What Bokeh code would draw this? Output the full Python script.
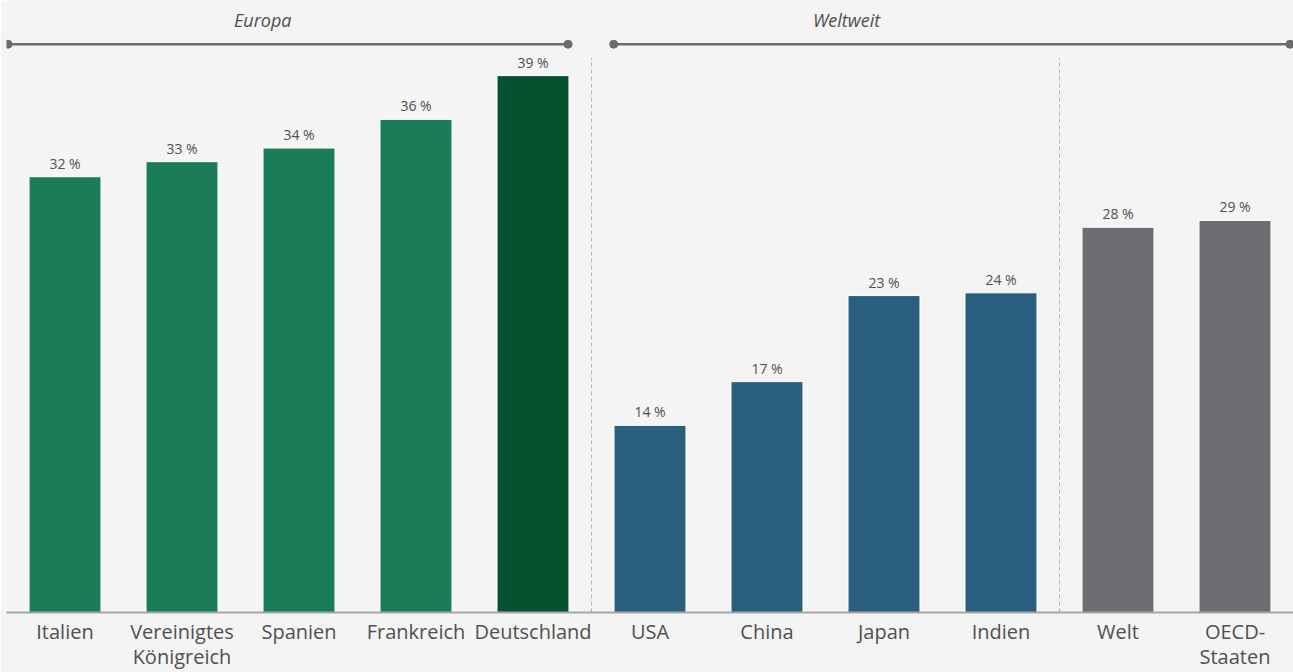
from bokeh.plotting import figure
from bokeh.models import ColumnDataSource, FixedTicker, Range1d
from bokeh.core.properties import value
from bokeh.embed import file_html
from bokeh.resources import INLINE

# ---- data ----
categories = ["Italien", "Vereinigtes\nKönigreich", "Spanien", "Frankreich", "Deutschland",
              "USA", "China", "Japan", "Indien", "Welt", "OECD-\nStaaten"]
shares = [31.9, 33.0, 34.0, 36.1, 39.3, 13.7, 16.9, 23.2, 23.4, 28.2, 28.7]
share_labels = ["32 %", "33 %", "34 %", "36 %", "39 %", "14 %", "17 %", "23 %", "24 %", "28 %", "29 %"]
groups = ["Europa", "Weltweit"]

GREEN = "#1a7d58"
DARK = "#04502f"
BLUE = "#2a5f80"
GREY = "#6d6e72"
colors = [GREEN, GREEN, GREEN, GREEN, DARK, BLUE, BLUE, BLUE, BLUE, GREY, GREY]

BG = "#f3f4f3"
TXT = "#505050"
FONT = "Open Sans"

xs = list(range(len(categories)))
src = ColumnDataSource(dict(x=xs, top=shares, color=colors, lab=share_labels))

p = figure(width=1293, height=672, output_backend="svg", toolbar_location=None,
           x_range=Range1d(-0.5, 10.5), y_range=Range1d(0, 44.8),
           y_axis_location=None, min_border_left=6, min_border_right=0,
           min_border_top=0, min_border_bottom=0)
p.background_fill_color = BG
p.border_fill_color = BG
p.outline_line_color = None
p.grid.visible = False

p.vbar(x="x", top="top", width=0.615, bottom=0, fill_color="color",
       line_color="white", line_width=1, source=src)

p.text(x="x", y="top", text="lab", source=src, text_align="center",
       text_baseline="bottom", y_offset=-4, text_font=value(FONT),
       text_font_size="14px", text_color=TXT)

# separators
p.segment(x0=[4.5, 8.5], y0=[0, 0], x1=[4.5, 8.5], y1=[40.6, 40.6],
          line_color="#b5b5b5", line_width=1, line_dash="4 3")

# group headers
hx0 = [-0.487, 4.69]
hx1 = [4.30, 10.47]
hy = 41.6
p.segment(x0=hx0, y0=[hy, hy], x1=hx1, y1=[hy, hy], line_color="#6b6b6b", line_width=2.5)
p.scatter(x=hx0 + hx1, y=[hy] * 4, size=8, color="#6b6b6b")
p.text(x=[1.69, 6.68], y=[43.35, 43.35], text=groups, text_align="center",
       text_baseline="middle", text_font=value(FONT), text_font_style="italic",
       text_font_size="18px", text_color=TXT)

ax = p.xaxis[0]
ax.ticker = FixedTicker(ticks=xs)
ax.major_label_overrides = {i: c for i, c in zip(xs, categories)}
ax.major_tick_line_color = None
ax.major_tick_out = 0
ax.major_tick_in = 0
ax.minor_tick_line_color = None
ax.minor_tick_out = 0
ax.axis_line_color = "#a5a5a5"
ax.axis_line_width = 2
ax.major_label_standoff = 5
ax.major_label_text_font = FONT
ax.major_label_text_font_size = "20px"
ax.major_label_text_color = TXT
ax.major_label_text_line_height = 0.94

open("out.html", "w").write(file_html(p, INLINE))
